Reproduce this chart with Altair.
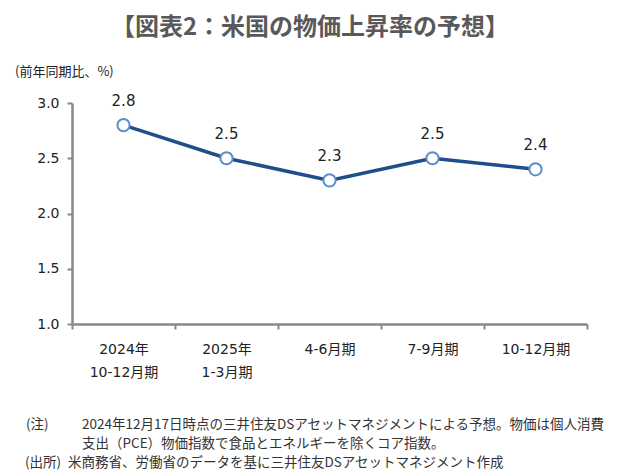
import altair as alt
import pandas as pd

categories = ["2024年\n10-12月期", "2025年\n1-3月期", "4-6月期", "7-9月期", "10-12月期"]
values = [2.8, 2.5, 2.3, 2.5, 2.4]
labels = ["2.8", "2.5", "2.3", "2.5", "2.4"]

title_text = "【図表2：米国の物価上昇率の予想】"
unit_text = "(前年同期比、%)"
note_head = "(注)"
note_lines = ["2024年12月17日時点の三井住友DSアセットマネジメントによる予想。物価は個人消費",
              "支出（PCE）物価指数で食品とエネルギーを除くコア指数。"]
src_head = "(出所)"
src_text = "米商務省、労働省のデータを基に三井住友DSアセットマネジメント作成"

df = pd.DataFrame({"cat": categories, "val": values, "lab": labels})

JP = "Noto Sans CJK JP"
NUM = "DejaVu Sans"
MIX = "DejaVu Sans, Noto Sans CJK JP"

x = alt.X("cat:N", sort=None, title=None,
          scale=alt.Scale(paddingInner=0, paddingOuter=0),
          axis=alt.Axis(labelAngle=0, labelFont=MIX, labelFontSize=14, labelColor="#222",
                        labelExpr="split(datum.label, '\\n')", labelLineHeight=23,
                        labelPadding=13, domainColor="#888", domainWidth=2.5,
                        tickColor="#888", tickWidth=2, tickSize=5, tickBand="extent",
                        labelBaseline="top"))
y = alt.Y("val:Q", title=None,
          scale=alt.Scale(domain=[1.0, 3.0], nice=False, zero=False),
          axis=alt.Axis(values=[1.0, 1.5, 2.0, 2.5, 3.0], format=".1f", grid=False,
                        labelFont=NUM, labelFontSize=14, labelColor="#222", labelPadding=8,
                        domainColor="#888", domainWidth=2.5, tickColor="#888",
                        tickWidth=2, tickSize=5))

base = alt.Chart(df)
line = base.mark_line(color="#1F4E8C", strokeWidth=3.5).encode(x=x, y=y)
pts = base.mark_point(filled=True, fill="white", stroke="#5B8FC7", strokeWidth=2,
                      size=150, opacity=1).encode(x=x, y=y)
txt = base.mark_text(dy=-24, font=NUM, fontSize=15, color="#222").encode(x=x, y=y, text="lab:N")

def label(text, xv, yv, size=13.5, weight="normal", align="left", color="#333", font=JP):
    d = pd.DataFrame({"t": [text]})
    return alt.Chart(d).mark_text(align=align, baseline="middle", fontSize=size,
                                  fontWeight=weight, color=color, font=font).encode(
        x=alt.value(xv), y=alt.value(yv), text="t:N")

ann = [
    label(title_text, 238, -75, size=24, weight="bold", align="center", color="#595959"),
    label(unit_text, -57, -31, size=13, color="#222"),
    label(note_head, -46, 322),
    label(note_lines[0], 10, 322),
    label(note_lines[1], 10, 341),
    label(src_head, -47, 360),
    label(src_text, -4, 360),
]

chart = alt.layer(line, pts, txt, *ann).properties(
    width=515, height=221,
    autosize=alt.AutoSizeParams(type="none"),
    padding={"left": 64, "top": 95, "right": 45, "bottom": 148},
    background="white",
).configure_view(stroke=None)

chart.save("out.html", embed_options={"renderer": "svg", "actions": False})
